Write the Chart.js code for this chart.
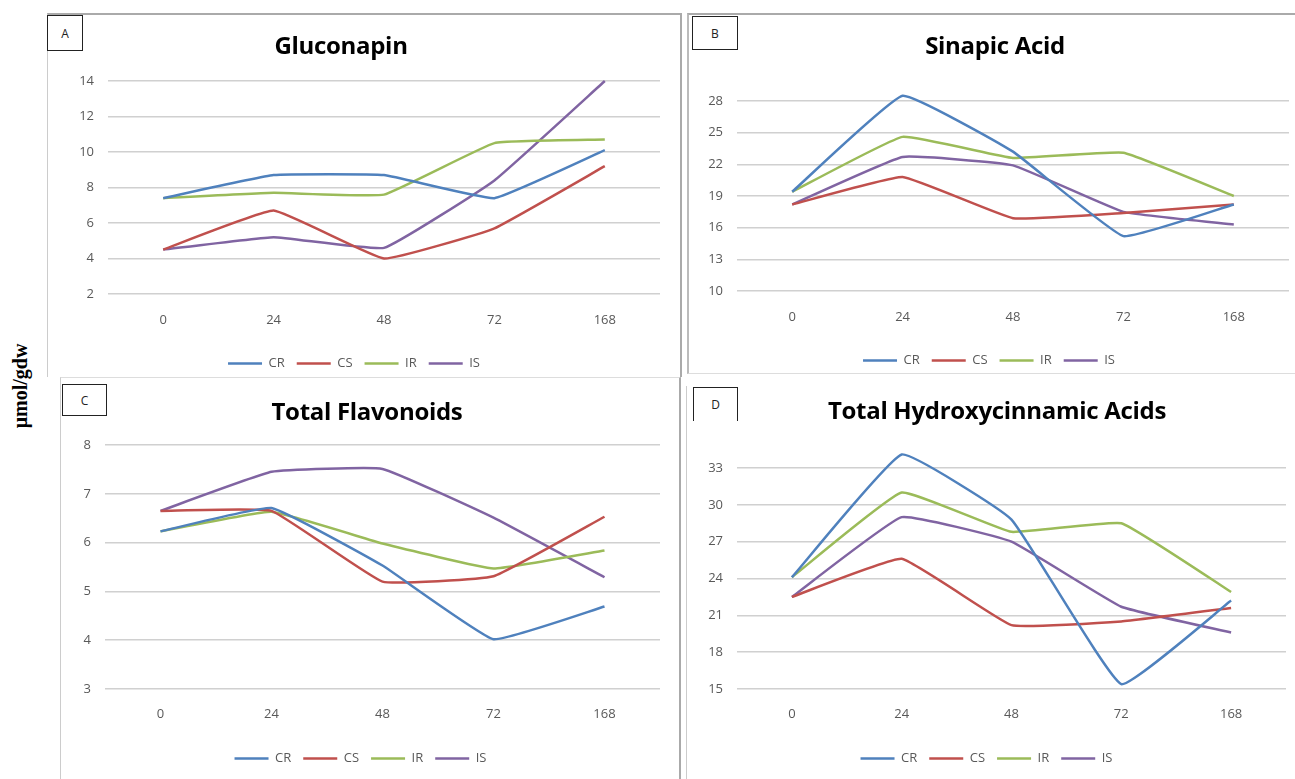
<!DOCTYPE html>
<html>
<head>
<meta charset="utf-8">
<script src="https://cdn.jsdelivr.net/npm/chart.js@4"></script>
<style>
    body { margin: 0; background: #fff; width: 1295px; height: 779px; position: relative; overflow: hidden; font-family: "Open Sans", sans-serif; }
    .panel { position: absolute; box-sizing: border-box; }
    .panel canvas { position: absolute; left: 0; top: 0; }
    .tag { position: absolute; border: 1.5px solid #222; box-sizing: border-box; font-size: 12px; color: #222; display: flex; align-items: center; justify-content: center; background: #fff; }
    .title { position: absolute; font-size: 24px; font-weight: bold; color: #000; white-space: nowrap; transform: translate(-50%, -50%); letter-spacing: -0.3px; }
    #ylabel { position: absolute; left: 20px; top: 386px; transform: translate(-50%, -50%) rotate(-90deg); font-family: "Liberation Serif", serif; font-weight: bold; font-size: 20px; white-space: nowrap; }
</style>
</head>
<body>

<div class="panel" id="panelA" style="left:47px; top:13px; width:635px; height:364px; border-top:2px solid #aaa; border-right:2px solid #aaa; border-left:1px solid #ccc;"><canvas id="chartA"></canvas></div>
<div class="panel" id="panelB" style="left:687px; top:13px; width:608px; height:361px; border-top:2px solid #aaa; border-left:2px solid #bbb; border-bottom:1px solid #ddd;"><canvas id="chartB"></canvas></div>
<div class="panel" id="panelC" style="left:60px; top:377px; width:621px; height:402px; border-top:1px solid #ddd; border-left:1px solid #ccc; border-right:2px solid #aaa;"><canvas id="chartC"></canvas></div>
<div class="panel" id="panelD" style="left:686px; top:386px; width:609px; height:393px; border-left:1px solid #ccc;"><canvas id="chartD"></canvas></div>

<div class="tag" style="left:47px; top:15px; width:36px; height:36px;">A</div>
<div class="tag" style="left:692px; top:16px; width:46px; height:34px;">B</div>
<div class="tag" style="left:62px; top:384px; width:45px; height:32px;">C</div>
<div class="tag" style="left:693px; top:387px; width:45px; height:34px; border-bottom:none;">D</div>

<div class="title" style="left:341px; top:44px;">Gluconapin</div>
<div class="title" style="left:995px; top:44px;">Sinapic Acid</div>
<div class="title" style="left:367px; top:410px;">Total Flavonoids</div>
<div class="title" style="left:997px; top:409px;">Total Hydroxycinnamic Acids</div>

<div id="ylabel">μmol/gdw</div>

<script>
const timePoints = ['0', '24', '48', '72', '168'];
const seriesNames = ['CR', 'CS', 'IR', 'IS'];
const seriesColors = ['#4f81bd', '#c0504d', '#9bbb59', '#8064a2'];

// A - Gluconapin
const gluconapinCR = [7.4, 8.7, 8.7, 7.4, 10.1];
const gluconapinCS = [4.5, 6.7, 4.0, 5.7, 9.2];
const gluconapinIR = [7.4, 7.7, 7.6, 10.5, 10.7];
const gluconapinIS = [4.5, 5.2, 4.6, 8.4, 14.0];

// B - Sinapic Acid
const sinapicCR = [19.4, 28.5, 23.2, 15.2, 18.2];
const sinapicCS = [18.2, 20.8, 16.9, 17.4, 18.2];
const sinapicIR = [19.4, 24.6, 22.6, 23.1, 19.0];
const sinapicIS = [18.2, 22.7, 21.9, 17.5, 16.3];

// C - Total Flavonoids
const flavonoidsCR = [6.23, 6.71, 5.53, 4.02, 4.69];
const flavonoidsCS = [6.65, 6.65, 5.2, 5.31, 6.53];
const flavonoidsIR = [6.23, 6.63, 5.98, 5.47, 5.84];
const flavonoidsIS = [6.65, 7.45, 7.51, 6.51, 5.29];

// D - Total Hydroxycinnamic Acids
const hydroxyCR = [24.1, 34.1, 28.8, 15.4, 22.2];
const hydroxyCS = [22.5, 25.6, 20.2, 20.5, 21.6];
const hydroxyIR = [24.1, 31.0, 27.8, 28.5, 22.9];
const hydroxyIS = [22.5, 29.0, 27.0, 21.7, 19.6];

// y axis ranges: [min, max, step]
const gluconapinRange = [2, 14, 2];
const sinapicRange = [10, 28, 3];
const flavonoidsRange = [3, 8, 1];
const hydroxyRange = [15, 33, 3];

const labelFont = { family: 'Open Sans', size: 13 };
const tickColor = '#595959';

function makeChart(id, seriesData, range, layout) {
    const canvas = document.getElementById(id);
    canvas.width = layout.w;
    canvas.height = layout.h;
    canvas.style.width = layout.w + 'px';
    canvas.style.height = layout.h + 'px';

    return new Chart(canvas, {
        type: 'line',
        data: {
            labels: timePoints,
            datasets: seriesData.map((d, i) => ({
                label: seriesNames[i],
                data: d,
                borderColor: seriesColors[i],
                backgroundColor: seriesColors[i],
                borderWidth: 2.5,
                pointRadius: 0,
                tension: 0.1,
                clip: false
            }))
        },
        options: {
            responsive: false,
            animation: false,
            layout: {
                padding: { top: layout.top, right: layout.right, bottom: layout.bottom, left: layout.left || 0 }
            },
            plugins: {
                title: { display: false },
                tooltip: { enabled: false },
                legend: {
                    position: 'bottom',
                    labels: {
                        usePointStyle: true,
                        pointStyle: 'line',
                        pointStyleWidth: 34,
                        padding: 12,
                        color: tickColor,
                        font: { family: 'Open Sans', size: 13 }
                    }
                }
            },
            scales: {
                x: {
                    offset: true,
                    grid: { display: false, drawTicks: false },
                    border: { display: false },
                    ticks: { color: tickColor, font: labelFont, padding: layout.xPad },
                    afterFit: s => { s.height = layout.xH; }
                },
                y: {
                    min: range[0],
                    max: range[1],
                    grid: { color: '#d0d0d0', lineWidth: 1.5, drawTicks: false },
                    border: { display: false },
                    ticks: { stepSize: range[2], color: tickColor, font: labelFont, padding: 14 },
                    afterFit: s => { s.width = layout.yW; }
                }
            }
        }
    });
}

makeChart('chartA', [gluconapinCR, gluconapinCS, gluconapinIR, gluconapinIS], gluconapinRange,
    { w: 632, h: 365, top: 66, right: 20, bottom: 0, xH: 51, xPad: 18, yW: 60 });
makeChart('chartB', [sinapicCR, sinapicCS, sinapicIR, sinapicIS], sinapicRange,
    { w: 606, h: 362, top: 86, right: 6, bottom: 0, xH: 51, xPad: 18, yW: 48 });
makeChart('chartC', [flavonoidsCR, flavonoidsCS, flavonoidsIR, flavonoidsIS], flavonoidsRange,
    { w: 618, h: 401, top: 67, right: 19, bottom: 4, xH: 51, xPad: 17, yW: 44 });
makeChart('chartD', [hydroxyCR, hydroxyCS, hydroxyIR, hydroxyIS], hydroxyRange,
    { w: 608, h: 393, top: 82, right: 9, bottom: 4, xH: 51, xPad: 17, yW: 50 });
</script>
</body>
</html>
